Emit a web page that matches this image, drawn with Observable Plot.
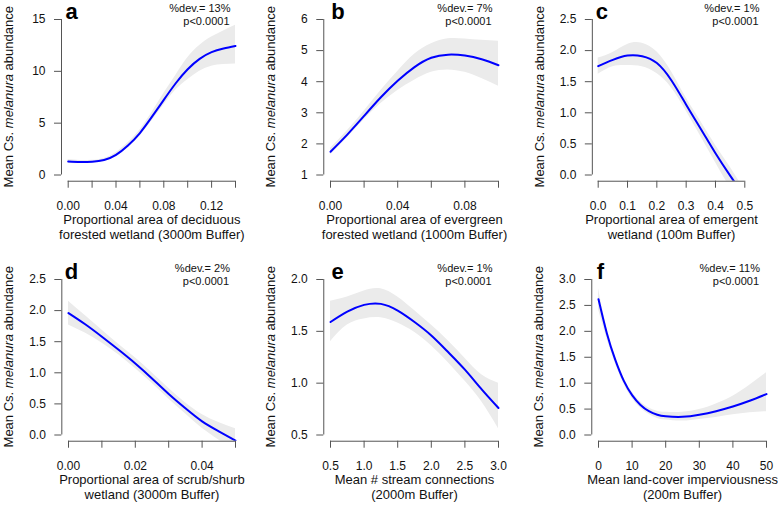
<!DOCTYPE html>
<html><head><meta charset="utf-8">
<script src="https://cdn.jsdelivr.net/npm/d3@7"></script>
<script src="https://cdn.jsdelivr.net/npm/@observablehq/plot@0.6"></script>
<style>
body{margin:0;background:#fff}
#fig{position:relative;width:778px;height:505px;overflow:hidden;background:#fff}
#fig svg{position:absolute;overflow:visible}
</style></head><body><div id="fig"></div>
<script>
// ---------- data ----------
const xA    = [0,0.01,0.02,0.03,0.04,0.05,0.06,0.07,0.08,0.09,0.10,0.11,0.12,0.13,0.14];
const meanA = [1.3,1.25,1.28,1.45,1.95,2.85,4.05,5.6,7.25,8.85,10.2,11.2,11.85,12.2,12.45];
const loA   = [1.1,1.1,1.15,1.3,1.75,2.6,3.75,5.2,6.75,8.2,9.2,10.0,10.5,10.65,10.7];
const hiA   = [1.5,1.4,1.42,1.6,2.15,3.1,4.35,6.0,7.85,9.6,11.3,12.5,13.3,13.9,14.45];

const xB    = [0,0.01,0.02,0.03,0.04,0.05,0.06,0.07,0.08,0.09,0.10];
const meanB = [1.75,2.3,2.9,3.5,4.03,4.47,4.77,4.87,4.84,4.72,4.53];
const loB   = [1.65,2.2,2.78,3.3,3.72,4.05,4.3,4.38,4.3,4.1,3.85];
const hiB   = [1.85,2.42,3.05,3.72,4.33,4.88,5.22,5.38,5.37,5.33,5.3];

const xC    = [0,0.05,0.1,0.15,0.2,0.25,0.3,0.35,0.4,0.45,0.5];
const meanC = [1.75,1.85,1.92,1.91,1.8,1.52,1.13,0.74,0.35,-0.01,-0.35];
const loC   = [1.62,1.74,1.76,1.74,1.63,1.4,1.03,0.62,0.2,-0.2,-0.55];
const hiC   = [1.88,1.97,2.1,2.12,1.98,1.66,1.24,0.86,0.48,0.13,-0.25];

const xD    = [0,0.005,0.01,0.015,0.02,0.025,0.03,0.035,0.04,0.045,0.05];
const meanD = [1.96,1.78,1.58,1.37,1.15,0.91,0.66,0.43,0.22,0.06,-0.09];
const loD   = [1.77,1.64,1.48,1.29,1.07,0.83,0.58,0.34,0.11,-0.08,-0.28];
const hiD   = [2.15,1.92,1.69,1.46,1.24,1.0,0.75,0.52,0.33,0.2,0.1];

const xE    = [0.5,0.75,1,1.25,1.5,1.75,2,2.25,2.5,2.75,3];
const meanE = [1.59,1.69,1.755,1.765,1.70,1.59,1.46,1.30,1.13,0.94,0.76];
const loE   = [1.40,1.56,1.62,1.63,1.58,1.49,1.36,1.20,1.02,0.82,0.56];
const hiE   = [1.79,1.83,1.89,1.91,1.83,1.70,1.56,1.41,1.24,1.08,1.0];

const xF    = [0,2.5,5,7.5,10,12.5,15,17.5,20,25,30,35,40,45,50];
const meanF = [2.62,1.96,1.45,1.05,0.77,0.58,0.46,0.39,0.36,0.35,0.39,0.46,0.55,0.66,0.79];
const loF   = [2.42,1.86,1.38,0.99,0.71,0.52,0.40,0.32,0.29,0.27,0.30,0.34,0.39,0.43,0.45];
const hiF   = [2.82,2.06,1.52,1.11,0.83,0.64,0.52,0.46,0.44,0.44,0.49,0.60,0.75,0.96,1.2];

// tick values and labels
const xTicksA = [0,0.02,0.04,0.06,0.08,0.10,0.12,0.14];
const xLabelsA = ["0.00","","0.04","","0.08","","0.12",""];
const xTicksB = [0,0.02,0.04,0.06,0.08,0.10];
const xLabelsB = ["0.00","","0.04","","0.08",""];
const xTicksC = [0,0.1,0.2,0.3,0.4,0.5];
const xLabelsC = ["0.0","0.1","0.2","0.3","0.4","0.5"];
const xTicksD = [0,0.01,0.02,0.03,0.04,0.05];
const xLabelsD = ["0.00","","0.02","","0.04",""];
const xTicksE = [0.5,1,1.5,2,2.5,3];
const xLabelsE = ["0.5","1.0","1.5","2.0","2.5","3.0"];
const xTicksF = [0,10,20,30,40,50];
const xLabelsF = ["0","10","20","30","40","50"];

const yTicksA = [0,5,10,15];          const yLabelsA = ["0","5","10","15"];
const yTicksB = [1,2,3,4,5,6];        const yLabelsB = ["1","2","3","4","5","6"];
const yTicksC = [0,0.5,1,1.5,2,2.5];  const yLabelsC = ["0.0","0.5","1.0","1.5","2.0","2.5"];
const yTicksD = [0,0.5,1,1.5,2,2.5];  const yLabelsD = ["0.0","0.5","1.0","1.5","2.0","2.5"];
const yTicksE = [0.5,1,1.5,2];        const yLabelsE = ["0.5","1.0","1.5","2.0"];
const yTicksF = [0,0.5,1,1.5,2,2.5,3];const yLabelsF = ["0.0","0.5","1.0","1.5","2.0","2.5","3.0"];

const letters = ["a","b","c","d","e","f"];
const devs = ["%dev.= 13%","%dev.= 7%","%dev.= 1%","%dev.= 2%","%dev.= 1%","%dev.= 11%"];
const pval = "p<0.0001";
const xTitles = [
  ["Proportional area of deciduous","forested wetland (3000m Buffer)"],
  ["Proportional area of evergreen","forested wetland (1000m Buffer)"],
  ["Proportional area of emergent","wetland (100m Buffer)"],
  ["Proportional area of scrub/shurb","wetland (3000m Buffer)"],
  ["Mean # stream connections","(2000m Buffer)"],
  ["Mean land-cover imperviousness","(200m Buffer)"]
];
const yTitleParts = ["Mean Cs. ","melanura"," abundance"];

// ---------- layout (pixels) ----------
const layout = [
  {left:0,   top:0,   x0:67.7, x1:235,   letterDx:4,   annoRight:230},
  {left:260, top:0,   x0:70,   x1:238,   letterDx:7.5, annoRight:232},
  {left:518, top:0,   x0:79.7, x1:226.3, letterDx:3.5, annoRight:241},
  {left:0,   top:260, x0:68,   x1:235,   letterDx:3,   annoRight:229.5},
  {left:260, top:260, x0:70,   x1:238,   letterDx:7.7, annoRight:232},
  {left:518, top:260, x0:80,   x1:248,   letterDx:5,   annoRight:241.5}
];

const series = [
  [xA,meanA,loA,hiA,xTicksA,xLabelsA,yTicksA,yLabelsA],
  [xB,meanB,loB,hiB,xTicksB,xLabelsB,yTicksB,yLabelsB],
  [xC,meanC,loC,hiC,xTicksC,xLabelsC,yTicksC,yLabelsC],
  [xD,meanD,loD,hiD,xTicksD,xLabelsD,yTicksD,yLabelsD],
  [xE,meanE,loE,hiE,xTicksE,xLabelsE,yTicksE,yLabelsE],
  [xF,meanF,loF,hiF,xTicksF,xLabelsF,yTicksF,yLabelsF]
];

const FONT = '"Liberation Sans", Arial, Helvetica, sans-serif';
const INK = "#111";
const fig = document.getElementById("fig");

series.forEach(([xs, mean, lo, hi, xT, xL, yT, yL], k) => {
  const L = layout[k];
  const W = 260, H = L.top === 0 ? 250 : 245;
  const yTop = 19, yBot = 174.5, ext = 0.04;
  const xlo = xT[0], xhi = xT[xT.length-1];
  const ylo = yT[0], yhi = yT[yT.length-1];
  const axisPx = L.x0 - ext*(L.x1-L.x0);
  const rightPx = L.x1 + ext*(L.x1-L.x0);
  const frameTop = yTop - ext*(yBot-yTop);
  const frameBot = yBot + ext*(yBot-yTop);
  const xd0 = xlo - ext*(xhi-xlo), xd1 = xhi + ext*(xhi-xlo);
  const yd0 = ylo - ext*(yhi-ylo), yd1 = yhi + ext*(yhi-ylo);
  const rows = xs.map((x,i)=>({x, m:mean[i], lo:lo[i], hi:hi[i]}));
  const xLab = xT.map((t,i)=>({t, s:xL[i]})).filter(d => d.s !== "");
  const yFmt = new Map(yT.map((t,i)=>[t,yL[i]]));
  // cap-top positions (lineAnchor "top" puts the cap top at y)
  const cap = (baseline, fs) => baseline - 0.71*fs;

  const svg = Plot.plot({
    width: W, height: H,
    marginLeft: axisPx, marginRight: W - rightPx,
    marginTop: frameTop, marginBottom: H - frameBot,
    style: {fontFamily: FONT, fontSize: "12px", color: INK, background: "transparent", overflow: "visible"},
    x: {domain: [xd0, xd1]},
    y: {domain: [yd0, yd1]},
    marks: [
      Plot.areaY(rows, {x:"x", y1:"lo", y2:"hi", fill:"#ebebeb", curve:"natural", clip:true}),
      Plot.line(rows, {x:"x", y:"m", stroke:"#0000ff", strokeWidth:2, curve:"natural", clip:true}),
      Plot.ruleX([xd0], {y1: ylo, y2: yhi, stroke:"#555", strokeWidth:1}),
      Plot.ruleY([yd0], {x1: xlo, x2: xhi, stroke:"#555", strokeWidth:1}),
      Plot.axisX({ticks: xT, tickFormat: () => "", tickSize: 7, label: null}),
      Plot.text(xLab, {x:"t", text:"s", frameAnchor:"bottom", dy: 201 - frameBot, lineAnchor:"top", fontSize: 12, fill: INK}),
      Plot.axisY({ticks: yT, tickFormat: d => yFmt.get(d) ?? "", tickSize: 7, tickPadding: 9, label: null, fontSize: 12}),
      Plot.text([letters[k]], {frameAnchor:"top-left", dx: L.letterDx, dy: cap(18.5, 22) - frameTop, textAnchor:"start", lineAnchor:"top", fontSize: 22, fontWeight:"bold", fill:"#000"}),
      Plot.text([devs[k]], {frameAnchor:"top-right", dx: L.annoRight - rightPx, dy: cap(11.7, 11) - frameTop, textAnchor:"end", lineAnchor:"top", fontSize: 11, fill: INK}),
      Plot.text([pval], {frameAnchor:"top-right", dx: L.annoRight - 1 - rightPx, dy: cap(24.5, 11) - frameTop, textAnchor:"end", lineAnchor:"top", fontSize: 11, fill: INK}),
      Plot.text([xTitles[k][0]], {frameAnchor:"bottom", dy: cap(223.5, 13) - frameBot, lineAnchor:"top", fontSize: 13, fill: INK}),
      Plot.text([xTitles[k][1]], {frameAnchor:"bottom", dy: cap(238.5, 13) - frameBot, lineAnchor:"top", fontSize: 13, fill: INK})
    ]
  });
  svg.style.left = L.left + "px";
  svg.style.top = L.top + "px";
  const s = d3.select(svg);
  s.selectAll('[aria-label="x-axis tick"], [aria-label="y-axis tick"]').attr("stroke", "#555");
  // rotated y-axis title with italic species name
  const t = s.append("text")
    .attr("transform", `translate(${axisPx - 48},${(frameTop+frameBot)/2}) rotate(-90)`)
    .attr("text-anchor", "middle")
    .attr("font-family", FONT).attr("font-size", 13).attr("fill", INK);
  t.append("tspan").text(yTitleParts[0]);
  t.append("tspan").attr("font-style", "italic").text(yTitleParts[1]);
  t.append("tspan").text(yTitleParts[2]);
  fig.appendChild(svg);
});
</script></body></html>
